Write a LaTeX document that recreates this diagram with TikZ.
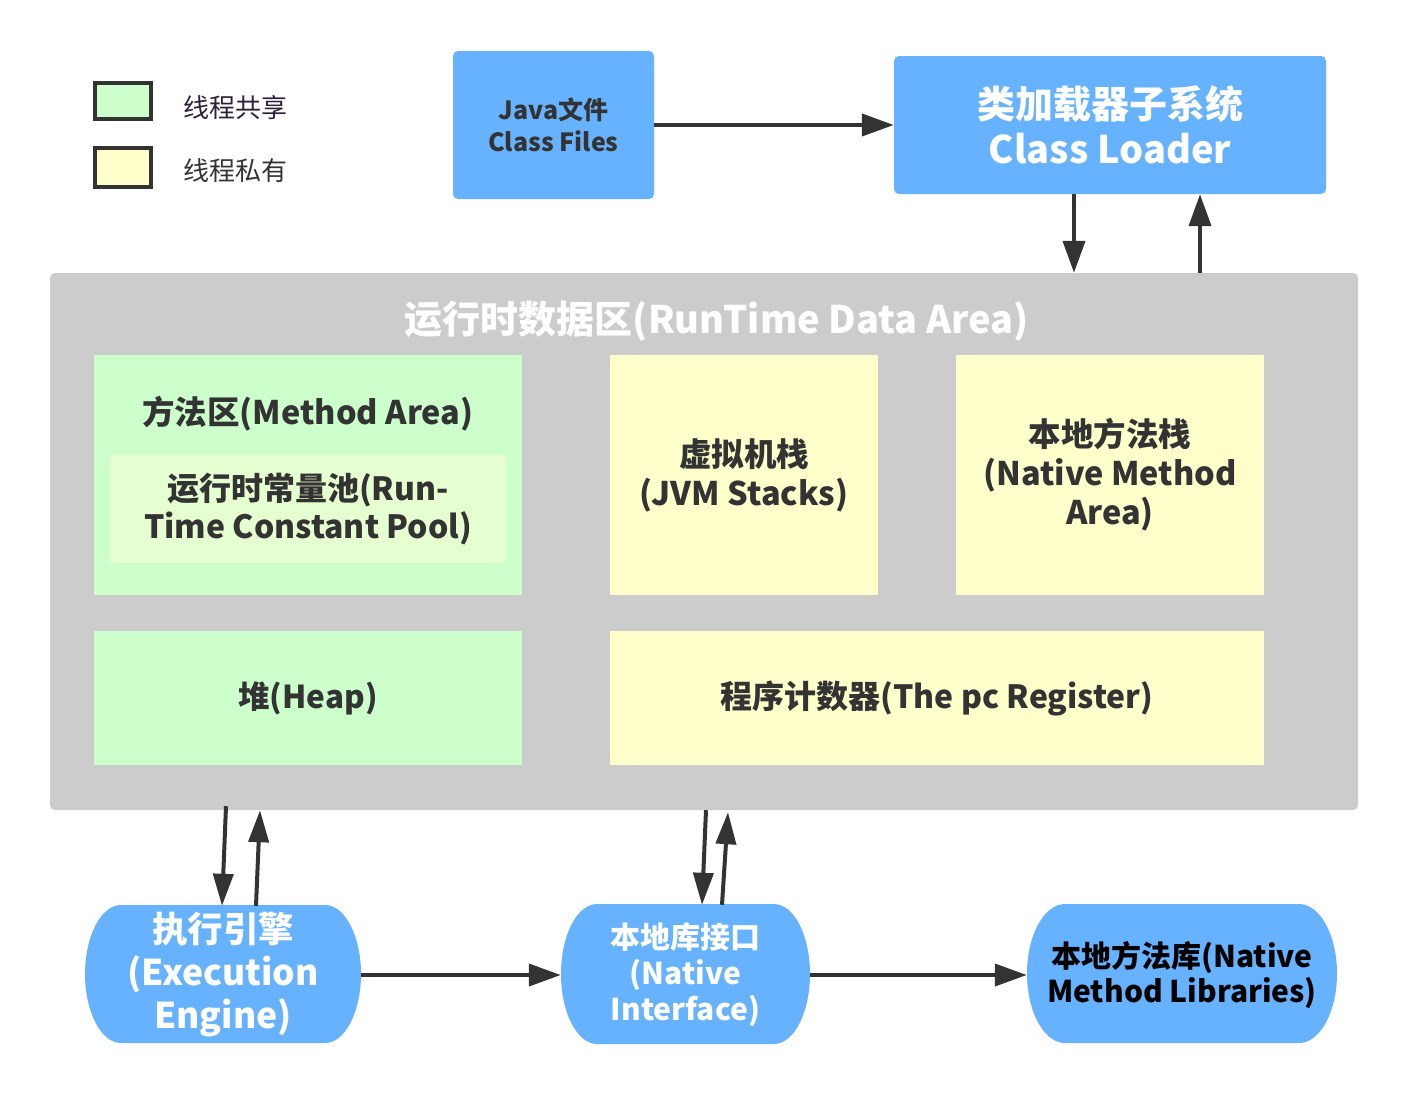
\documentclass[tikz,border=0pt]{standalone}
\usepackage{fontspec}
\setmainfont{Noto Sans CJK SC}
\usetikzlibrary{arrows.meta}
\definecolor{blu}{HTML}{66B2FF}
\definecolor{grn}{HTML}{CCFFCC}
\definecolor{yel}{HTML}{FFFFCC}
\definecolor{pool}{HTML}{E6FFD0}
\definecolor{gry}{HTML}{CCCCCC}
\definecolor{ln}{HTML}{333333}
\definecolor{txt}{HTML}{333333}
\definecolor{leg}{HTML}{2E1F3A}
\begin{document}
\begin{tikzpicture}[x=1pt,y=-1pt,
  box/.style={draw=none, inner sep=0pt, align=center, text=txt},
  fs/.style 2 args={font=\bfseries\fontsize{#1}{#2}\selectfont},
  arr/.style={line width=4pt, draw=ln, -{Triangle[length=32pt,width=22pt]}},
  legbox/.style={draw=ln, line width=4pt, minimum width=56pt, minimum height=36pt, inner sep=0pt},
  lbl/.style={inner sep=0pt, font=\fontsize{26}{30}\selectfont}]
\useasboundingbox (0,0) rectangle (1408,1095);
% legend
\node[legbox, fill=grn] (lg) at (123,101) {};
\node[legbox, fill=yel, minimum height=39pt] (ly) at (123,167.5) {};
\node[lbl, text=leg] (lgt) at (235,108) {线程共享};
\node[lbl, text=ln] (lyt) at (235,171) {线程私有};
% top boxes
\node[box, fill=blu, rounded corners=5pt, minimum width=201pt, minimum height=148pt, fs={25}{32}, text=txt] (java) at (553.5,125) {Java文件\\Class Files};
\node[box, fill=blu, rounded corners=5pt, minimum width=432pt, minimum height=138pt, fs={38}{45}, text=white] (cl) at (1110,125) {类加载器子系统\\Class Loader};
% runtime area
\node[box, fill=gry, rounded corners=5pt, minimum width=1308pt, minimum height=537pt] (rt) at (704,541.5) {};
\node[box, fs={38}{44}, text=white] (rtt) at (717,321) {运行时数据区(RunTime Data Area)};
\node[box, fill=grn, minimum width=428pt, minimum height=240pt] (ma) at (308,475) {};
\node[box, fs={32.5}{38}] (mat) at (308,414) {方法区(Method Area)};
\node[box, fill=pool, minimum width=396pt, minimum height=108pt, fs={32}{38}] (rcp) at (308,509) {运行时常量池(Run-\\Time Constant Pool)};
\node[box, fill=yel, minimum width=268pt, minimum height=240pt, fs={32.5}{39}] (jvm) at (744,475) {虚拟机栈\\(JVM Stacks)};
\node[box, fill=yel, minimum width=308pt, minimum height=240pt, fs={32.5}{39}] (nm) at (1110,475) {本地方法栈\\(Native Method\\Area)};
\node[box, fill=grn, minimum width=428pt, minimum height=134pt, fs={31.5}{38}] (heap) at (308,698) {堆(Heap)};
\node[box, fill=yel, minimum width=654pt, minimum height=134pt, fs={32}{38}] (pc) at (937,698) {程序计数器(The pc Register)};
% bottom pills
\fill[blu] (121,905) -- (325,905) arc[start angle=90,end angle=-90,x radius=36pt,y radius=69pt] -- (121,1043) arc[start angle=270,end angle=90,x radius=36pt,y radius=69pt] -- cycle;
\fill[blu] (597,904) -- (774,904) arc[start angle=90,end angle=-90,x radius=36pt,y radius=70pt] -- (597,1044) arc[start angle=270,end angle=90,x radius=36pt,y radius=70pt] -- cycle;
\fill[blu] (1065,904) -- (1299,904) arc[start angle=90,end angle=-90,x radius=38pt,y radius=69.5pt] -- (1065,1043) arc[start angle=270,end angle=90,x radius=38pt,y radius=69.5pt] -- cycle;
\node[box, minimum width=276pt, minimum height=138pt, fs={35.5}{43}, text=white] (ee) at (223,975) {执行引擎\\(Execution\\Engine)};
\node[box, minimum width=249pt, minimum height=140pt, fs={30}{36}, text=white] (ni) at (685.5,975) {本地库接口\\(Native\\Interface)};
\node[box, minimum width=310pt, minimum height=139pt, fs={30}{35}, text=black] (nml) at (1182,975) {本地方法库(Native\\Method Libraries)};
% arrows
\draw[arr] (java.east) -- (cl.west);
\draw[arr] ([xshift=-36pt]cl.south) -- ([xshift=-36pt]cl.south |- rt.north);
\draw[arr] ([xshift=90pt]cl.south |- rt.north) -- ([xshift=90pt]cl.south);
\draw[arr, -{Triangle[length=32pt,width=20pt]}] ([xshift=3pt,yshift=4pt]ee.north |- rt.south) -- ([xshift=-1pt]ee.north);
\draw[arr, -{Triangle[length=32pt,width=20pt]}] ([xshift=33pt]ee.north) -- ([xshift=37pt]ee.north |- rt.south);
\draw[arr, -{Triangle[length=32pt,width=20pt]}] ([xshift=20.5pt]ni.north |- rt.south) -- ([xshift=16.5pt]ni.north);
\draw[arr, -{Triangle[length=32pt,width=20pt]}] ([xshift=36.5pt]ni.north) -- ([xshift=42.5pt,yshift=-2pt]ni.north |- rt.south);
\draw[arr] (ee.east) -- (ni.west);
\draw[arr] (ni.east) -- (nml.west);
\end{tikzpicture}
\end{document}
